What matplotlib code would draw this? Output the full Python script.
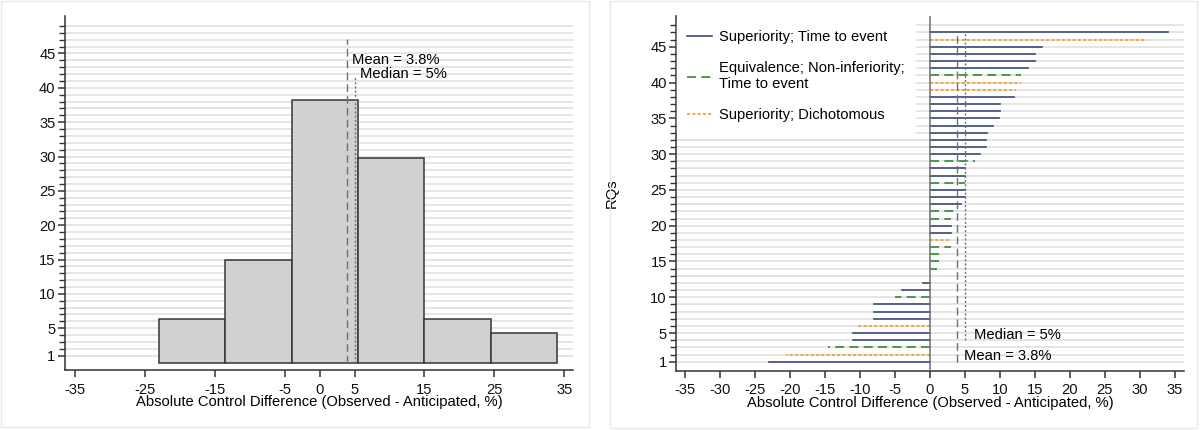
import numpy as np
import matplotlib
matplotlib.use('Agg')
import matplotlib.pyplot as plt
from matplotlib.lines import Line2D
from matplotlib.patches import Rectangle
from matplotlib.ticker import FixedLocator

# ---------------- data ----------------
rq_diff = [-23, -20.6, -14.6, -11, -11, -10.4, -8, -8, -8, -5, -4, -1, 0,
           1, 2, 2, 3, 3, 3, 3, 3, 4, 4.5, 5, 5, 5, 5, 5, 6.4, 7.1, 8, 8, 8.2,
           9, 9.8, 10, 10, 12, 12.3, 13, 13, 14, 15, 15, 16, 31, 34]
rq_type = ['S', 'D', 'E', 'S', 'S', 'D', 'S', 'S', 'S', 'E', 'S', 'S', 'S',
           'E', 'E', 'E', 'E', 'D', 'S', 'S', 'E', 'E', 'S', 'S', 'S', 'E', 'S', 'S', 'E', 'S', 'S', 'S', 'S',
           'S', 'S', 'S', 'S', 'S', 'D', 'D', 'E', 'S', 'S', 'S', 'S', 'D', 'S']
type_labels = {'S': 'Superiority; Time to event',
               'E': 'Equivalence; Non-inferiority;\nTime to event',
               'D': 'Superiority; Dichotomous'}
n_bins = 6
hist_xticks = [-35, -25, -15, -5, 0, 5, 15, 25, 35]
hist_yticks = [1, 5, 10, 15, 20, 25, 30, 35, 40, 45]
rq_xticks = list(range(-35, 40, 5))
rq_yticks = [1, 5, 10, 15, 20, 25, 30, 35, 40, 45]

# ---------------- style ----------------
FS = 10.6
plt.rcParams['font.family'] = ['Liberation Sans', 'DejaVu Sans']
plt.rcParams['font.size'] = FS
plt.rcParams['axes.unicode_minus'] = False
plt.rcParams['lines.scale_dashes'] = False

NAVY = '#3d4b7c'
GREEN = '#2f8a2f'
ORANGE = '#f59a2c'
GRID = '#e3e3e3'
AXC = '#333333'
REFC = '#707070'
styles = {'S': dict(color=NAVY, linestyle='-'),
          'E': dict(color=GREEN, linestyle=(0, (6.5, 3.8))),
          'D': dict(color=ORANGE, linestyle=(0, (2.2, 1.6)))}

vals = np.array(rq_diff, dtype=float)
n = len(vals)
mean_v = vals.mean()
median_v = np.median(vals)

fig = plt.figure(figsize=(12, 4.3), dpi=100)
fig.patch.set_facecolor('white')

# panel frames
fig.add_artist(Rectangle((1/1200, 3/430), 588/1200, 426/430, transform=fig.transFigure,
                         fill=False, edgecolor='#e9e9e9', lw=1))
fig.add_artist(Rectangle((610/1200, 2/430), 587/1200, 427/430, transform=fig.transFigure,
                         fill=False, edgecolor='#e9e9e9', lw=1))


def style_axes(ax, minor_y):
    for s in ['top', 'right']:
        ax.spines[s].set_visible(False)
    for s in ['left', 'bottom']:
        ax.spines[s].set_color(AXC)
        ax.spines[s].set_linewidth(1.1)
    ax.yaxis.set_minor_locator(FixedLocator(minor_y))
    ax.tick_params(axis='both', which='major', length=5, width=1.1, color=AXC,
                   labelsize=FS, labelcolor='#111111')
    ax.tick_params(axis='both', which='minor', length=4, width=1.0, color=AXC)
    ax.tick_params(axis='x', pad=4)
    ax.tick_params(axis='y', pad=2)
    for y in minor_y:
        ax.axhline(y, color=GRID, lw=1.3, zorder=0)


# ---------------- left: histogram ----------------
ax1 = fig.add_axes([65.3/1200, 60/430, 508/1200, 354.3/430])
style_axes(ax1, list(range(1, 50)))
ax1.hist(vals, bins=n_bins, range=(vals.min(), vals.max()),
         weights=np.full(n, 100.0/n), color='#d1d1d1', edgecolor='#363636',
         linewidth=1.1, zorder=2)
ax1.plot([mean_v, mean_v], [0, 47.1], color=REFC, lw=1.0,
         linestyle=(0, (5.5, 3)), zorder=3)
ax1.plot([median_v, median_v], [0, 41.6], color=REFC, lw=1.0,
         linestyle=(0, (1.5, 1.5)), zorder=3)
ax1.text(4.7, 44.0, f'Mean = {mean_v:.1f}%', ha='left', va='center', fontsize=FS)
ax1.text(5.75, 42.05, f'Median = {median_v:g}%', ha='left', va='center', fontsize=FS)
ax1.set_xlim(-36.4, 36.3)
ax1.set_ylim(-1.08, 50.5)
ax1.set_xticks(hist_xticks)
ax1.set_yticks(hist_yticks)
ax1.set_xlabel('Absolute Control Difference (Observed - Anticipated, %)', labelpad=-1)

# ---------------- right: per-RQ lines ----------------
ax2 = fig.add_axes([676/1200, 59.3/430, 508/1200, 354.7/430])
style_axes(ax2, list(range(1, 49)))
rq_idx = np.arange(1, n + 1)
for i, v, t in zip(rq_idx, vals, rq_type):
    ax2.plot([0, v], [i, i], lw=1.2, zorder=2, **styles[t])
ax2.axvline(0, color=REFC, lw=1.1, zorder=3)
ax2.plot([mean_v, mean_v], [1.0, 47.1], color=REFC, lw=1.0,
         linestyle=(0, (5.5, 3)), zorder=3)
ax2.plot([median_v, median_v], [4.0, 47.1], color=REFC, lw=1.0,
         linestyle=(0, (1.5, 1.5)), zorder=3)
ax2.text(6.35, 4.77, f'Median = {median_v:g}%', ha='left', va='center', fontsize=FS)
ax2.text(4.85, 1.8, f'Mean = {mean_v:.1f}%', ha='left', va='center', fontsize=FS)
ax2.set_xlim(-36.3, 36.3)
ax2.set_ylim(-0.26, 49.3)
ax2.set_xticks(rq_xticks)
ax2.set_yticks(rq_yticks)
ax2.tick_params(axis='y', pad=1.5)
ax2.set_xlabel('Absolute Control Difference (Observed - Anticipated, %)', labelpad=-1)
ax2.set_ylabel('RQs')
ax2.yaxis.set_label_coords(-0.1136, 0.5)

handles = [Line2D([0], [0], lw=1.2, **styles[k]) for k in ['S', 'E', 'D']]
labels = [type_labels[k] for k in ['S', 'E', 'D']]
leg = ax2.legend(handles, labels, loc='upper left', bbox_to_anchor=(0.002, 0.989),
                 borderaxespad=0, frameon=True, framealpha=1, fancybox=False,
                 edgecolor='white', facecolor='white', handlelength=1.7,
                 handletextpad=0.45, borderpad=0.7, labelspacing=1.15, fontsize=FS)
leg.set_zorder(5)

fig.savefig('out.png', dpi=100, facecolor='white')
